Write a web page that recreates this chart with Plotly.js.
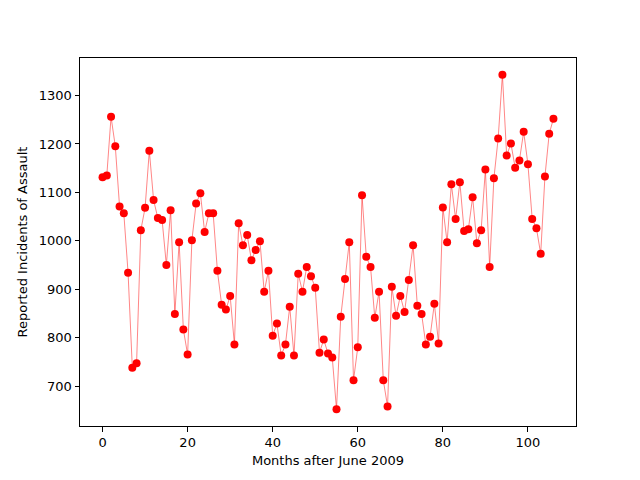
<!DOCTYPE html>
<html>
<head>
<meta charset="utf-8">
<script src="https://cdn.plot.ly/plotly-3.0.1.min.js"></script>
<style>
  html, body { margin: 0; padding: 0; background: #fff; }
  #plot { width: 640px; height: 480px; }
</style>
</head>
<body>
<div id="plot"></div>
<script>
"use strict";

// Monthly reported assault incidents, months counted from June 2009.
const assaults = [
    1131, 1135, 1256, 1195, 1071, 1057, 934, 738, 747, 1022,
    1068, 1186, 1084, 1047, 1043, 950, 1063, 849, 997, 817,
    765, 1001, 1077, 1098, 1018, 1057, 1057, 938, 868, 858,
    886, 786, 1036, 991, 1012, 960, 981, 999, 895, 938,
    804, 829, 763, 786, 864, 763, 932, 895, 946, 927,
    903, 769, 796, 767, 759, 652, 843, 921, 997, 712,
    780, 1094, 967, 946, 841, 895, 712, 658, 905, 845,
    886, 853, 919, 991, 866, 849, 786, 802, 870, 788,
    1069, 997, 1117, 1045, 1121, 1020, 1024, 1090, 995, 1022,
    1147, 946, 1129, 1211, 1343, 1176, 1201, 1151, 1166, 1225,
    1158, 1045, 1026, 973, 1133, 1221, 1252
];
const months = assaults.map((_, i) => i);

const xTicks = [0, 20, 40, 60, 80, 100];
const yTicks = [700, 800, 900, 1000, 1100, 1200, 1300];

const trace = {
    type: "scatter", mode: "lines+markers",
    x: months, y: assaults,
    line: { color: "rgba(255,0,0,0.6)", width: 0.8 },
    marker: { color: "#ff0000", size: 8 },
    hoverinfo: "x+y", showlegend: false,
};

const axisBase = {
    showline: true, mirror: true, linecolor: "#000", linewidth: 1,
    ticks: "outside", ticklen: 4.5, tickwidth: 1, tickcolor: "#000",
    showgrid: false, zeroline: false,
    tickfont: { size: 13, color: "#000" },
};

const layout = {
    width: 640, height: 480,
    margin: { l: 80, r: 64, t: 58, b: 54 },
    paper_bgcolor: "#fff", plot_bgcolor: "#fff",
    font: { family: "DejaVu Sans, sans-serif", size: 13, color: "#000" },
    xaxis: Object.assign({}, axisBase, {
        range: [-5.3, 111.3], tickvals: xTicks,
        title: { text: "Months after June 2009", font: { size: 13 }, standoff: 6 },
    }),
    yaxis: Object.assign({}, axisBase, {
        range: [617.5, 1377.5], tickvals: yTicks,
        title: { text: "Reported Incidents of Assault", font: { size: 13 }, standoff: 8 },
    }),
};

Plotly.newPlot("plot", [trace], layout, { displayModeBar: false, staticPlot: true });
</script>
</body>
</html>
